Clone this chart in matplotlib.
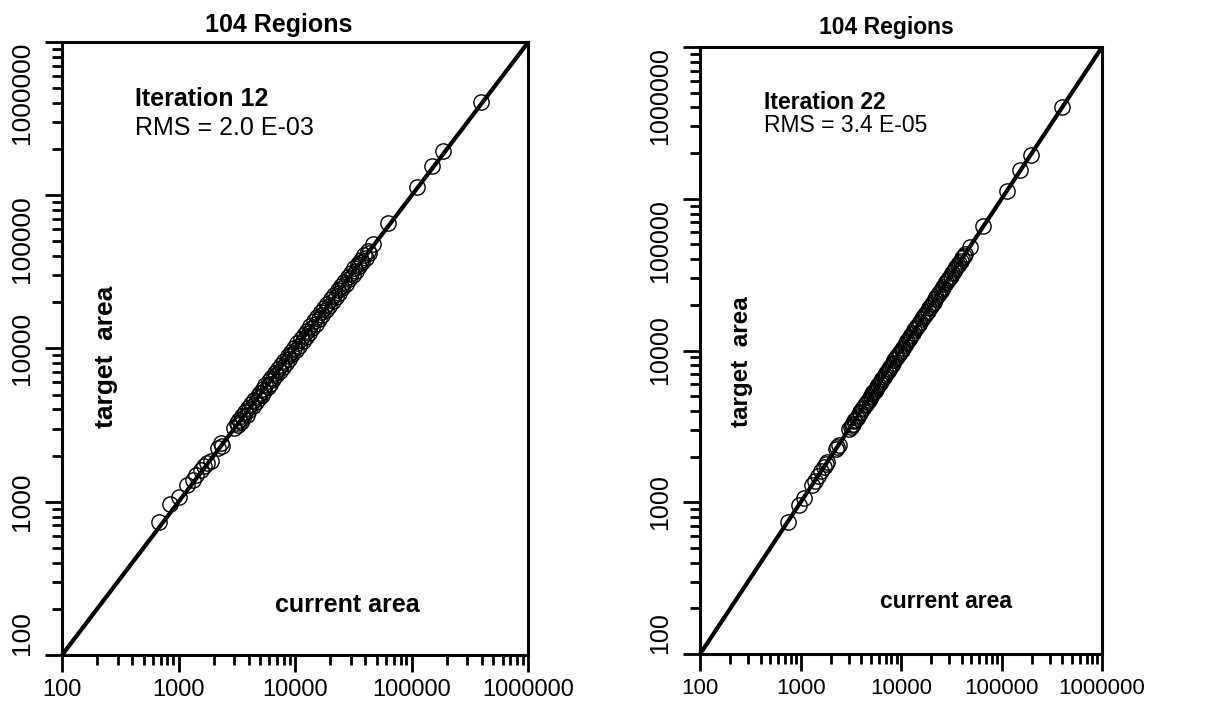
import numpy as np
import matplotlib.pyplot as plt
from matplotlib.ticker import LogLocator, NullFormatter, FixedLocator

plt.rcParams['font.family'] = ['Liberation Sans', 'DejaVu Sans']

# target area of the 104 regions
target = [740, 960, 1070, 1290, 1380, 1500, 1600, 1720, 1790, 1850, 2250, 2300, 2400,
          3050, 3150, 3250, 3300, 3420, 3500, 3600, 3700, 3850, 3950,
          4100, 4200, 4350, 4450, 4600, 4750, 4900, 5000, 5150, 5300,
          5450, 5600, 5750, 5900, 6100, 6300, 6450, 6700, 6900, 7100,
          7350, 7600, 7800, 8050, 8300, 8600, 8900, 9150, 9500, 9800,
          10100, 10400, 10800, 11200, 11500, 11900, 12300, 12700, 13100, 13600,
          14000, 14500, 15000, 15500, 16100, 16600, 17200, 17800, 18300, 19000,
          19600, 20300, 21000, 21700, 22400, 23100, 23900, 24700, 25500, 26400,
          27300, 28200, 29100, 30100, 31100, 32200, 33300, 34400, 35500, 36700,
          37900, 39200, 40500, 42000, 43500,
          48000, 66000, 113000, 155000, 195000, 405000]

# current area after iteration 12
current_12 = [680, 840, 1000, 1190, 1330, 1420, 1560, 1650, 1760, 1900, 2180, 2350, 2300,
              3000, 3250, 3150, 3400, 3300, 3600, 3480, 3820, 3700, 4050,
              3950, 4350, 4200, 4600, 4450, 4900, 4750, 5200, 4950, 5450,
              5250, 5800, 5550, 6100, 5900, 6500, 6250, 6900, 6650, 7350,
              7100, 7850, 7550, 8300, 8000, 8900, 8600, 9450, 9150, 10100,
              9750, 10750, 10400, 11550, 11100, 12300, 11850, 13100, 12650, 14000,
              13500, 14950, 14500, 16000, 15500, 17100, 16600, 18350, 17700, 19550,
              18900, 20900, 20300, 22300, 21600, 23800, 23100, 25400, 24600, 27200,
              26400, 29000, 28100, 31000, 30000, 33100, 32200, 35400, 34300, 37700,
              36600, 40300, 39100, 43200, 42000,
              46500, 63000, 110000, 150000, 186000, 390000]

# current area after iteration 22
current_22 = [745, 955, 1075, 1285, 1385, 1495, 1605, 1715, 1795, 1845, 2255, 2295, 2405,
              3060, 3140, 3260, 3290, 3430, 3490, 3610, 3690, 3860, 3940,
              4110, 4190, 4360, 4440, 4610, 4740, 4910, 4990, 5160, 5290,
              5460, 5590, 5760, 5890, 6110, 6290, 6460, 6690, 6910, 7090,
              7360, 7590, 7810, 8040, 8310, 8590, 8910, 9140, 9510, 9790,
              10120, 10380, 10820, 11180, 11520, 11880, 12320, 12680, 13120, 13580,
              14020, 14480, 15030, 15470, 16130, 16570, 17230, 17770, 18330, 18970,
              19630, 20270, 21030, 21670, 22430, 23070, 23930, 24670, 25530, 26370,
              27330, 28170, 29130, 30070, 31130, 32170, 33330, 34370, 35530, 36670,
              37930, 39170, 40530, 41970, 43530,
              48200, 65800, 113500, 154000, 196000, 403000]

decades = [100, 1000, 10000, 100000, 1000000]
decade_labels = ['100', '1000', '10000', '100000', '1000000']
# vertical alignment of the rotated y labels, bottom to top
ylabel_va = ['bottom', 'center', 'center', 'top', 'top']

panels = [
    dict(rect=[0.0507, 0.0762, 0.381, 0.8646], current=current_12,
         iteration='Iteration 12', rms='RMS = 2.0 E-03', fs=18, tick_fs=17, ytick_fs=19,
         it_x=0.157, it_y=0.907, rms_y=0.860, title_x=0.464, title_y=1.028,
         cur_x=0.612, cur_y=0.082, tgt_x=0.094, tgt_y=0.486),
    dict(rect=[0.572, 0.0776, 0.3284, 0.856], current=current_22,
         iteration='Iteration 22', rms='RMS = 3.4 E-05', fs=16.5, tick_fs=16, ytick_fs=18,
         it_x=0.160, it_y=0.909, rms_y=0.870, title_x=0.463, title_y=1.033,
         cur_x=0.611, cur_y=0.086, tgt_x=0.102, tgt_y=0.481),
]

fig = plt.figure(figsize=(12.24, 7.09), dpi=100)

for p in panels:
    ax = fig.add_axes(p['rect'])
    ax.set_xscale('log')
    ax.set_yscale('log')
    ax.set_xlim(100, 1000000)
    ax.set_ylim(100, 1000000)

    # perfect fit line
    ax.plot([100, 1000000], [100, 1000000], color='black', lw=3.0,
            solid_capstyle='butt', clip_on=False, zorder=3)
    ax.plot(p['current'], target, 'o', ms=11, mfc='none', mec='black',
            mew=1.0, zorder=4)

    for sp in ax.spines.values():
        sp.set_linewidth(2.2)

    ax.xaxis.set_major_locator(FixedLocator(decades))
    ax.yaxis.set_major_locator(FixedLocator(decades))
    ax.xaxis.set_minor_locator(LogLocator(base=10, subs=np.arange(2, 10)))
    ax.yaxis.set_minor_locator(LogLocator(base=10, subs=np.arange(2, 10)))
    ax.xaxis.set_minor_formatter(NullFormatter())
    ax.yaxis.set_minor_formatter(NullFormatter())
    ax.set_xticklabels(decade_labels, fontsize=p['tick_fs'])
    ax.set_yticklabels(decade_labels, rotation=90, fontsize=p['ytick_fs'])
    for lab, va in zip(ax.get_yticklabels(), ylabel_va):
        lab.set_va(va)

    ax.tick_params(which='both', direction='out', width=2, top=False, right=False)
    ax.tick_params(which='major', length=12)
    ax.tick_params(axis='x', which='major', pad=5)
    ax.tick_params(axis='y', which='major', pad=8)
    ax.tick_params(which='minor', length=7)

    fs = p['fs']
    ax.text(p['title_x'], p['title_y'], '104 Regions', transform=ax.transAxes,
            ha='center', va='center', fontsize=fs, fontweight='bold')
    ax.text(p['it_x'], p['it_y'], p['iteration'], transform=ax.transAxes,
            ha='left', va='center', fontsize=fs, fontweight='bold')
    ax.text(p['it_x'], p['rms_y'], p['rms'], transform=ax.transAxes,
            ha='left', va='center', fontsize=fs)
    ax.text(p['tgt_x'], p['tgt_y'], 'target  area', transform=ax.transAxes,
            ha='center', va='center', rotation=90, fontsize=fs + 1, fontweight='bold')
    ax.text(p['cur_x'], p['cur_y'], 'current area', transform=ax.transAxes,
            ha='center', va='center', fontsize=fs, fontweight='bold')

fig.savefig('out.png', dpi=100)
